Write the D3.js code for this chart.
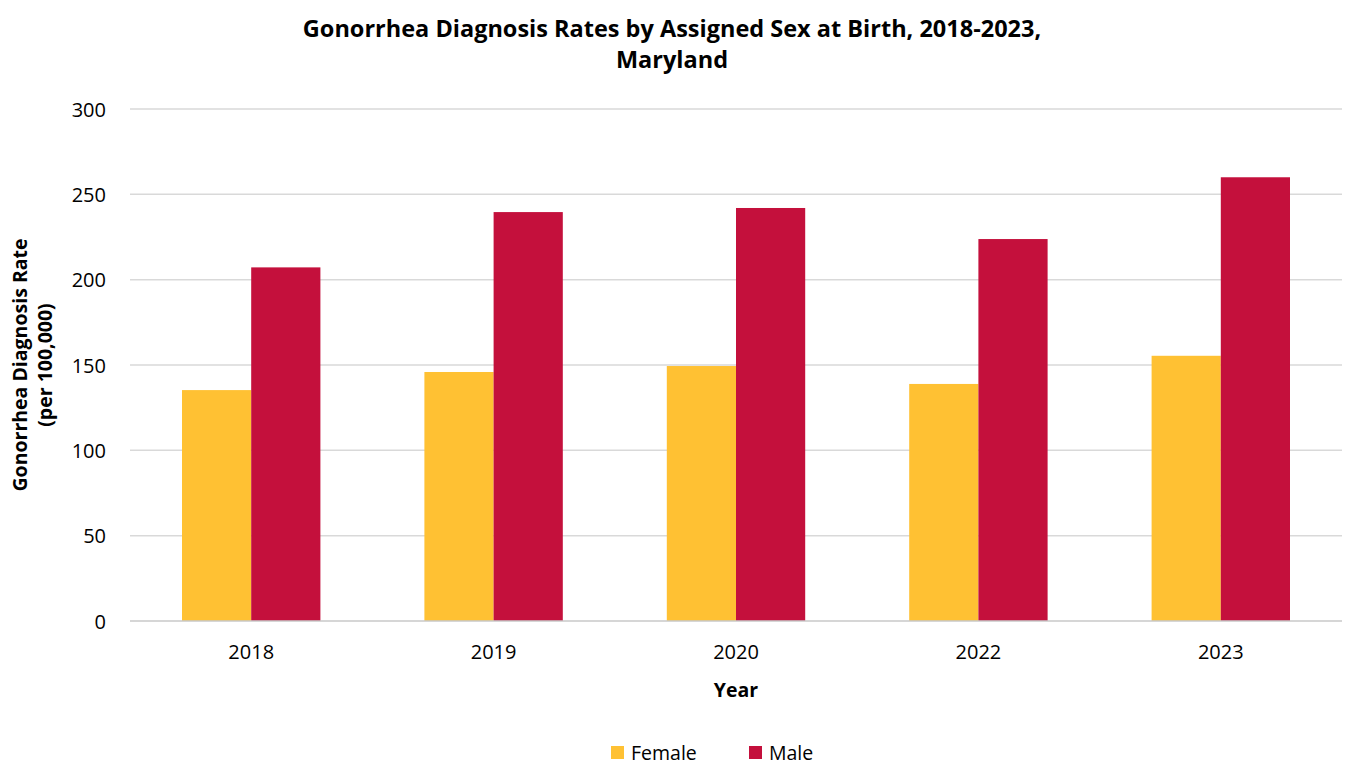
<!DOCTYPE html>
<html>
<head>
<meta charset="utf-8">
<script src="https://cdn.jsdelivr.net/npm/d3@7"></script>
<style>
  body { margin: 0; background: #fff; }
  text { font-family: "Open Sans", "Liberation Sans", sans-serif; fill: #000; }
</style>
</head>
<body>
<div id="container"></div>
<script>
// chart data
var years = ['2018', '2019', '2020', '2022', '2023'];
var female = [135.3, 145.9, 149.4, 138.9, 155.4];
var male = [207.2, 239.6, 242.0, 223.8, 260.0];
var seriesNames = ['Female', 'Male'];
var seriesColors = ['#FFC133', '#C4103C'];
var yTicks = [0, 50, 100, 150, 200, 250, 300];

var W = 1345, H = 767;
var margin = {top: 109, right: 3, bottom: 146, left: 130},
    width = W - margin.left - margin.right,
    height = H - margin.top - margin.bottom;

var svg = d3.select('#container').append('svg')
  .attr('width', W)
  .attr('height', H);

var g = svg.append('g')
  .attr('transform', 'translate(' + margin.left + ',' + margin.top + ')');

// scales
var x = d3.scaleBand().domain(years).range([0, width]).paddingInner(0).paddingOuter(0);
var x1 = d3.scaleBand().domain(seriesNames).range([52, x.bandwidth() - 52]);
var y = d3.scaleLinear().domain([0, 300]).range([height, 0]);

// gridlines
g.append('g')
  .selectAll('line')
  .data(yTicks.filter(function(d) { return d > 0; }))
  .enter().append('line')
  .attr('x1', 0).attr('x2', width)
  .attr('y1', function(d) { return y(d); })
  .attr('y2', function(d) { return y(d); })
  .attr('stroke', '#d9d9d9')
  .attr('stroke-width', 1.5);

// bars
var rows = years.map(function(yr, i) {
  return {year: yr, values: [female[i], male[i]]};
});

var groups = g.selectAll('.grp')
  .data(rows)
  .enter().append('g')
  .attr('class', 'grp')
  .attr('transform', function(d) { return 'translate(' + x(d.year) + ',0)'; });

groups.selectAll('rect')
  .data(function(d) { return d.values.map(function(v, j) { return {name: seriesNames[j], v: v, c: seriesColors[j]}; }); })
  .enter().append('rect')
  .attr('x', function(d) { return x1(d.name); })
  .attr('width', x1.bandwidth())
  .attr('y', function(d) { return y(d.v); })
  .attr('height', function(d) { return height - y(d.v); })
  .attr('fill', function(d) { return d.c; });

// baseline
g.append('line')
  .attr('x1', 0).attr('x2', width)
  .attr('y1', height).attr('y2', height)
  .attr('stroke', '#c8c8c8')
  .attr('stroke-width', 1.5);

// y axis labels
var yAxis = d3.axisLeft(y).tickValues(yTicks).tickSize(0).tickPadding(24);
var ya = g.append('g').call(yAxis);
ya.select('.domain').remove();
ya.selectAll('text').style('font-size', '20px').attr('dy', '0.35em');

// x axis labels
var xAxis = d3.axisBottom(x).tickSize(0).tickPadding(24);
var xa = g.append('g').attr('transform', 'translate(0,' + height + ')').call(xAxis);
xa.select('.domain').remove();
xa.selectAll('text').style('font-size', '20px');

// title
svg.append('text')
  .attr('text-anchor', 'middle')
  .attr('x', 672).attr('y', 37)
  .style('font-size', '23.5px').style('font-weight', 'bold')
  .text('Gonorrhea Diagnosis Rates by Assigned Sex at Birth, 2018-2023,');
svg.append('text')
  .attr('text-anchor', 'middle')
  .attr('x', 672).attr('y', 68)
  .style('font-size', '23.5px').style('font-weight', 'bold')
  .text('Maryland');

// axis titles
svg.append('text')
  .attr('text-anchor', 'middle')
  .attr('x', 736).attr('y', 697)
  .style('font-size', '19.5px').style('font-weight', 'bold')
  .text('Year');

var yt = svg.append('text')
  .attr('text-anchor', 'middle')
  .attr('transform', 'translate(27,365) rotate(-90)')
  .style('font-size', '19.5px').style('font-weight', 'bold');
yt.append('tspan').attr('x', 0).attr('dy', 0).text('Gonorrhea Diagnosis Rate');
yt.append('tspan').attr('x', 0).attr('dy', 25).text('(per 100,000)');

// legend
var legendX = [611, 749];
var legend = svg.append('g')
  .selectAll('g')
  .data(seriesNames)
  .enter().append('g')
  .attr('transform', function(d, i) { return 'translate(' + legendX[i] + ',746)'; });

legend.append('rect')
  .attr('width', 13).attr('height', 13)
  .attr('fill', function(d, i) { return seriesColors[i]; });

legend.append('text')
  .attr('x', 20).attr('y', 14)
  .style('font-size', '19.5px')
  .text(function(d) { return d; });
</script>
</body>
</html>
